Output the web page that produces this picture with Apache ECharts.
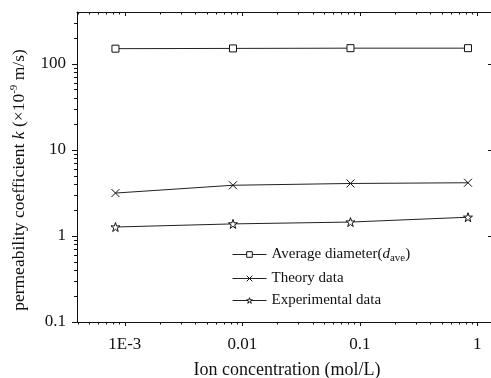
<!DOCTYPE html>
<html>
<head>
<meta charset="utf-8">
<script src="https://cdn.jsdelivr.net/npm/echarts@6/dist/echarts.min.js"></script>
<style>
html,body{margin:0;padding:0;background:#fff;}
#chart{width:491px;height:378px;}
</style>
</head>
<body>
<div id="chart"></div>
<script>
// ---- data ----
var concentrations = [0.000833, 0.00833, 0.0833, 0.833];
var averageDiameter = [150, 151, 152, 152];
var theoryData = [3.15, 3.88, 4.07, 4.15];
var experimentalData = [1.27, 1.38, 1.45, 1.65];
var seriesNames = ['Average diameter', 'Theory data', 'Experimental data'];
var xTickValues = [0.001, 0.01, 0.1, 1];
var xTickLabels = ['1E-3', '0.01', '0.1', '1'];
var yTickValues = [0.1, 1, 10, 100];
var yTickLabels = ['0.1', '1', '10', '100'];
var xRange = [3.92e-4, 1.36];
var yRange = [0.1, 400];

function minorTicks(lo, hi) {
  var out = [];
  for (var e = -5; e <= 4; e++) {
    for (var d = 2; d <= 9; d++) {
      var v = d * Math.pow(10, e);
      if (v > lo * 1.0001 && v < hi * 0.9999) out.push(v);
    }
  }
  return out;
}
function pairs(xs, ys) { return xs.map(function (x, i) { return [x, ys[i]]; }); }

var FONT = 'Liberation Serif, Times New Roman, serif';
var INK = '#111';

var starPath = 'path://M50,2 L61,36 L97,36 L68,57 L79,92 L50,71 L21,92 L32,57 L3,36 L39,36 Z';
var crossPath = 'path://M0,0 L10,10 M10,0 L0,10';

function axisBase(pos, extent) {
  return {
    type: 'log', logBase: 10, position: pos, min: extent[0], max: extent[1],
    splitLine: {show: false}, minorTick: {show: false}, minorSplitLine: {show: false},
    axisLine: {show: false, lineStyle: {color: INK, width: 1}},
    axisTick: {show: false},
    axisLabel: {show: false},
    silent: true, z: 5
  };
}
function labelFor(values, labels) {
  return function (v) {
    for (var i = 0; i < values.length; i++) if (Math.abs(values[i] - v) / values[i] < 1e-6) return labels[i];
    return '';
  };
}

var xMaj = axisBase('bottom', xRange);
xMaj.axisLine.show = true;
xMaj.axisTick = {show: true, inside: false, length: 4, lineStyle: {color: INK}, customValues: xTickValues};
xMaj.axisLabel = {show: true, customValues: xTickValues, margin: 14, color: INK, fontFamily: FONT, fontSize: 17,
  formatter: labelFor(xTickValues, xTickLabels)};
xMaj.name = 'Ion concentration (mol/L)';
xMaj.nameLocation = 'middle';
xMaj.nameGap = 39;
xMaj.nameTextStyle = {color: INK, fontFamily: FONT, fontSize: 18, padding: [0, 0, 0, 4]};

var xMin = axisBase('bottom', xRange);
xMin.axisTick = {show: true, inside: false, length: 2.5, lineStyle: {color: INK}, customValues: minorTicks(xRange[0], xRange[1])};

var xTopMaj = axisBase('top', xRange);
xTopMaj.axisLine.show = true;
xTopMaj.axisTick = {show: true, inside: true, length: 4, lineStyle: {color: INK}, customValues: xTickValues};

var xTopMin = axisBase('top', xRange);
xTopMin.axisTick = {show: true, inside: true, length: 2.5, lineStyle: {color: INK}, customValues: minorTicks(xRange[0], xRange[1])};

var yMaj = axisBase('left', yRange);
yMaj.axisLine.show = true;
yMaj.axisTick = {show: true, inside: false, length: 5, lineStyle: {color: INK}, customValues: yTickValues};
yMaj.axisLabel = {show: true, customValues: yTickValues, margin: 11, color: INK, fontFamily: FONT, fontSize: 17,
  formatter: labelFor(yTickValues, yTickLabels)};
yMaj.name = '{n|permeability coefficient }{i|k}{n| (×10}{sup|-9}{n| m/s)}';
yMaj.nameLocation = 'middle';
yMaj.nameRotate = 90;
yMaj.nameGap = 38;
yMaj.nameTextStyle = {color: INK, fontFamily: FONT, fontSize: 17.5, padding: [0, 26, 0, 0], rich: {
  n: {fontFamily: FONT, fontSize: 17.5, color: INK},
  i: {fontFamily: FONT, fontSize: 17.5, fontStyle: 'italic', color: INK},
  sup: {fontFamily: FONT, fontSize: 11, lineHeight: 11, padding: [0, 0, 10, 0], color: INK}
}};

var yMin = axisBase('left', yRange);
yMin.axisTick = {show: true, inside: false, length: 3, lineStyle: {color: INK}, customValues: minorTicks(yRange[0], yRange[1])};

var yRightMaj = axisBase('right', yRange);
yRightMaj.axisLine.show = true;
yRightMaj.axisTick = {show: true, inside: true, length: 5, lineStyle: {color: INK}, customValues: yTickValues};

var lineCommon = {
  type: 'line', xAxisIndex: 0, yAxisIndex: 0,
  lineStyle: {color: '#222', width: 1},
  itemStyle: {color: '#fff', borderColor: '#111', borderWidth: 1},
  showAllSymbol: true, animation: false, z: 3
};

var legendItem = {color: '#fff', borderColor: '#111', borderWidth: 1};

var option = {
  animation: false,
  backgroundColor: '#fff',
  textStyle: {fontFamily: FONT},
  grid: {left: 77, top: 12, width: 416, bottom: 56, containLabel: false, outerBoundsMode: 'none'},
  legend: {
    orient: 'vertical', left: 232, top: 245, padding: 0,
    itemWidth: 34, itemHeight: 7, itemGap: 7,
    itemStyle: legendItem,
    lineStyle: {width: 1, color: '#222'},
    textStyle: {color: INK, fontFamily: FONT, fontSize: 15, rich: {
      n: {fontFamily: FONT, fontSize: 15, color: INK},
      i: {fontFamily: FONT, fontSize: 15, fontStyle: 'italic', color: INK},
      sub: {fontFamily: FONT, fontSize: 11, lineHeight: 11, padding: [8, 0, 0, 0], color: INK}
    }},
    formatter: function (name) {
      if (name === seriesNames[0]) return '{n|Average diameter(}{i|d}{sub|ave}{n|)}';
      return '{n|' + name + '}';
    },
    data: seriesNames
  },
  xAxis: [xMaj, xMin, xTopMaj, xTopMin],
  yAxis: [yMaj, yMin, yRightMaj],
  series: [
    Object.assign({}, lineCommon, {name: seriesNames[0], symbol: 'rect', symbolSize: 7, data: pairs(concentrations, averageDiameter)}),
    Object.assign({}, lineCommon, {name: seriesNames[1], symbol: crossPath, symbolSize: 8, data: pairs(concentrations, theoryData)}),
    Object.assign({}, lineCommon, {name: seriesNames[2], symbol: starPath, symbolSize: 9, data: pairs(concentrations, experimentalData)})
  ]
};

var chart = echarts.init(document.getElementById('chart'), null, {renderer: 'canvas'});
chart.setOption(option);
</script>
</body>
</html>
